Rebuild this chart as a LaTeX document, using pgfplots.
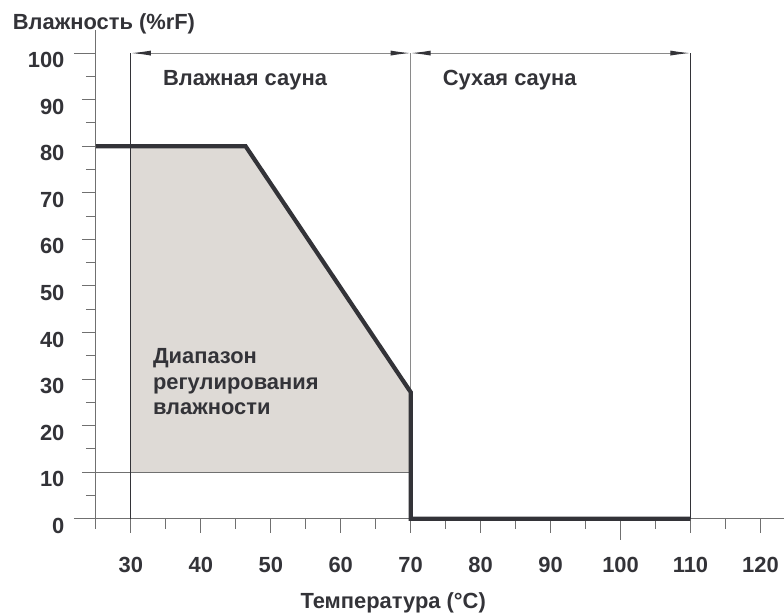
\documentclass[border=0pt]{standalone}
\usepackage{pgfplots}
\pgfplotsset{compat=1.18}
\usepackage{fontspec}
\setmainfont{Liberation Sans}
\usetikzlibrary{arrows.meta}
\definecolor{ink}{HTML}{333338}
\definecolor{fillc}{HTML}{DEDAD6}
\definecolor{axgray}{HTML}{707070}
\definecolor{lgray}{HTML}{8A8A8A}
\begin{document}
\begin{tikzpicture}
\begin{axis}[
  x=7bp, y=4.66bp,
  xmin=25, xmax=123.3, ymin=0, ymax=104.9,
  axis lines=left,
  axis line style={axgray, line width=1bp, -},
  tick align=outside,
  xtick={30,40,...,120},
  ytick={0,10,...,100},
  minor xtick={25,35,...,115}, minor ytick={5,15,...,95},
  major tick length=14bp, minor tick length=10bp,
  tick style={axgray, line width=1bp},
  ticklabel style={font=\fontsize{22}{25}\selectfont\bfseries, text=ink},
  xticklabel style={yshift=-21bp},
  yticklabel style={xshift=-14bp, yshift=-7bp},
  /pgf/number format/assume math mode=true,
  clip=false,
]
\path (axis cs:11.29,-20.6) rectangle (axis cs:123.29,111.4);
% longer tick marks
\addplot[axgray, line width=1bp] coordinates {(21.86,0) (25,0)};
\addplot[axgray, line width=1bp] coordinates {(21.86,100) (25,100)};
\addplot[axgray, line width=1bp] coordinates {(100,0) (100,-4.5)};
% shaded humidity control range
\addplot[fill=fillc, draw=none] coordinates {(30,10) (30,80) (46.4,80) (70,27.2) (70,10)} -- cycle;
% thin reference lines
\addplot[axgray, line width=1bp] coordinates {(25,10) (70,10)};
\addplot[ink, line width=1bp] coordinates {(30,0) (30,100)};
\addplot[lgray, line width=1bp] coordinates {(70,0) (70,100)};
\addplot[ink, line width=1bp] coordinates {(110,0) (110,100)};
% dimension arrows
\addplot[lgray, line width=1bp, {Latex[length=20bp,width=5bp,color=ink]}-{Latex[length=20bp,width=5bp,color=ink]}] coordinates {(30,100) (70,100)};
\addplot[lgray, line width=1bp, {Latex[length=20bp,width=5bp,color=ink]}-{Latex[length=20bp,width=5bp,color=ink]}] coordinates {(70,100) (110,100)};
% limit curve
\addplot[ink, line width=4.2bp, line join=miter] coordinates {(25,80) (46.4,80) (70,27.2) (70,0) (110,0)};
% labels
\node[anchor=base west, font=\fontsize{22}{25}\selectfont\bfseries, text=ink, inner sep=0pt] at (axis cs:34.57,93.1) {Влажная сауна};
\node[anchor=base west, font=\fontsize{22}{25}\selectfont\bfseries, text=ink, inner sep=0pt] at (axis cs:74.57,93.1) {Сухая сауна};
\node[anchor=base west, font=\fontsize{22}{25}\selectfont\bfseries, text=ink, inner sep=0pt] at (axis cs:33.14,33.26) {Диапазон};
\node[anchor=base west, font=\fontsize{22}{25}\selectfont\bfseries, text=ink, inner sep=0pt] at (axis cs:33.14,27.68) {регулирования};
\node[anchor=base west, font=\fontsize{22}{25}\selectfont\bfseries, text=ink, inner sep=0pt] at (axis cs:33.14,22.32) {влажности};
\node[anchor=base west, font=\fontsize{22}{25}\selectfont\bfseries, text=ink, inner sep=0pt] at (axis cs:13.1,105.15) {Влажность (\%rF)};
\node[anchor=base, font=\fontsize{22}{25}\selectfont\bfseries, text=ink, inner sep=0pt] at (axis cs:67.5,-19.3) {Температура (°C)};
\end{axis}
\end{tikzpicture}
\end{document}
